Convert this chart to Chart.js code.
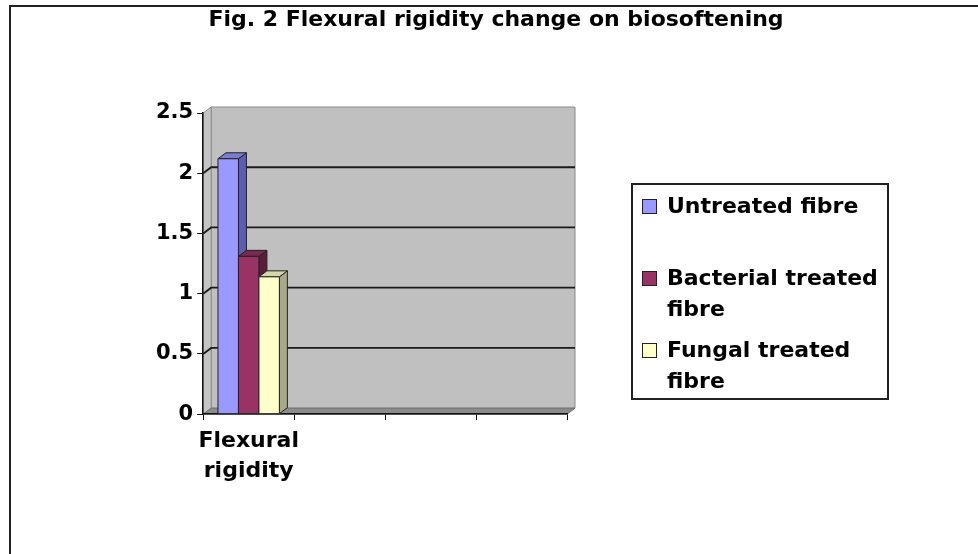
<!DOCTYPE html>
<html>
<head>
<meta charset="utf-8">
<script src="https://cdn.jsdelivr.net/npm/chart.js@4/dist/chart.umd.min.js"></script>
<style>
  body { margin: 0; background: #fff; }
  .frame { position: relative; width: 978px; height: 554px; overflow: hidden; background: #fff; }
  .frame::before { content: ''; position: absolute; left: 9px; top: 5px; right: -5px; bottom: -5px;
    border-left: 2px solid #222; border-top: 2px solid #222; pointer-events: none; }
  #chart { position: absolute; left: 0; top: 0; }
  .title { position: absolute; left: 0; width: 992px; top: 5px; text-align: center;
    font: bold 22px "DejaVu Sans", sans-serif; line-height: 28px; color: #000; }
  .legend { position: absolute; left: 631px; top: 183px; width: 254px; height: 213px;
    border: 2px solid #222; font: bold 22px "DejaVu Sans", sans-serif; color: #000; }
  .legend .item { position: absolute; left: 9px; width: 225px; line-height: 31px; padding-left: 25px; }
  .legend .sw { position: absolute; left: 0; top: 9px; width: 13px; height: 13px; border: 1px solid #222; }
</style>
</head>
<body>
<div class="frame">
  <canvas id="chart" width="978" height="554"></canvas>
  <div class="title" id="title"></div>
  <div class="legend" id="legend"></div>
</div>
<script>
const titleText = 'Fig. 2 Flexural rigidity change on biosoftening';
const categories = [['Flexural', 'rigidity'], '', '', ''];
const seriesNames = ['Untreated fibre', 'Bacterial treated fibre', 'Fungal treated fibre'];
const untreated = [2.12, null, null, null];
const bacterial = [1.31, null, null, null];
const fungal = [1.14, null, null, null];
const yMin = 0, yMax = 2.5, yStep = 0.5;

const fronts = ['#9999ff', '#993366', '#ffffcc'];
const sides = ['#5d5dae', '#5a1d3c', '#a9a98a'];
const tops = ['#7b7bd0', '#7a2a52', '#d6d6ad'];
const legendTops = [5, 77, 149];

// depth of the fake 3d effect
const DX = 8, DY = 6;

function poly(ctx, pts, fill, stroke) {
  ctx.beginPath();
  pts.forEach((p, i) => i ? ctx.lineTo(p[0], p[1]) : ctx.moveTo(p[0], p[1]));
  ctx.closePath();
  if (fill) { ctx.fillStyle = fill; ctx.fill(); }
  if (stroke) { ctx.strokeStyle = stroke; ctx.stroke(); }
}

const walls = {
  id: 'walls',
  beforeDraw(chart) {
    const { ctx, chartArea: a, scales: { y } } = chart;
    ctx.save();
    ctx.lineWidth = 1;
    // back wall, left wall, floor
    poly(ctx, [[a.left + DX, a.top - DY], [a.right + DX, a.top - DY], [a.right + DX, a.bottom - DY], [a.left + DX, a.bottom - DY]], '#c0c0c0', '#8a8a8a');
    poly(ctx, [[a.left, a.top], [a.left + DX, a.top - DY], [a.left + DX, a.bottom - DY], [a.left, a.bottom]], '#c4c4c4', '#8a8a8a');
    poly(ctx, [[a.left, a.bottom], [a.left + DX, a.bottom - DY], [a.right + DX, a.bottom - DY], [a.right, a.bottom]], '#8c8c8c', '#6e6e6e');
    // gridlines on the back wall
    ctx.strokeStyle = '#1a1a1a';
    ctx.lineWidth = 1.8;
    y.ticks.forEach(t => {
      if (t.value <= yMin || t.value >= yMax) return;
      const py = y.getPixelForValue(t.value);
      ctx.beginPath();
      ctx.moveTo(a.left, py);
      ctx.lineTo(a.left + DX, py - DY);
      ctx.lineTo(a.right + DX, py - DY);
      ctx.stroke();
    });
    ctx.restore();
  }
};

const bars3d = {
  id: 'bars3d',
  afterDatasetsDraw(chart) {
    const ctx = chart.ctx;
    ctx.save();
    ctx.lineWidth = 1;
    chart.data.datasets.forEach((ds, i) => {
      chart.getDatasetMeta(i).data.forEach((bar, j) => {
        if (ds.data[j] == null) return;
        const { x, y, base, width } = bar.getProps(['x', 'y', 'base', 'width'], true);
        const l = x - width / 2, r = x + width / 2;
        poly(ctx, [[r, y], [r + DX, y - DY], [r + DX, base - DY], [r, base]], sides[i], '#222');
        poly(ctx, [[l, y], [l + DX, y - DY], [r + DX, y - DY], [r, y]], tops[i], '#222');
        poly(ctx, [[l, y], [r, y], [r, base], [l, base]], fronts[i], '#222');
      });
    });
    ctx.restore();
  }
};

const font = { family: 'DejaVu Sans', weight: 'bold' };

new Chart(document.getElementById('chart'), {
  type: 'bar',
  data: {
    labels: categories,
    datasets: [untreated, bacterial, fungal].map((d, i) => ({
      label: seriesNames[i],
      data: d,
      backgroundColor: fronts[i],
      borderColor: '#222',
      borderWidth: 1,
      categoryPercentage: 0.675,
      barPercentage: 1
    }))
  },
  options: {
    responsive: false,
    animation: false,
    layout: { padding: { left: 152, right: 411, top: 113, bottom: 62 } },
    plugins: {
      legend: { display: false },
      tooltip: { enabled: false },
      title: { display: false }
    },
    scales: {
      x: {
        grid: { drawOnChartArea: false, drawTicks: true, tickLength: 6, color: '#111' },
        border: { color: '#111', width: 1.5 },
        ticks: { color: '#000', font: { ...font, size: 22, lineHeight: 1.36 }, padding: 6, maxRotation: 0, autoSkip: false }
      },
      y: {
        min: yMin,
        max: yMax,
        grid: { drawOnChartArea: false, drawTicks: true, tickLength: 6, color: '#111' },
        border: { color: '#111', width: 1.5 },
        ticks: { stepSize: yStep, color: '#000', font: { ...font, size: 21 }, padding: 4, callback: v => String(v) }
      }
    }
  },
  plugins: [walls, bars3d]
});

document.getElementById('title').textContent = titleText;

const legend = document.getElementById('legend');
seriesNames.forEach((name, i) => {
  const item = document.createElement('div');
  item.className = 'item';
  item.style.top = legendTops[i] + 'px';
  item.innerHTML = '<span class="sw" style="background:' + fronts[i] + '"></span>' + name;
  legend.appendChild(item);
});
</script>
</body>
</html>
